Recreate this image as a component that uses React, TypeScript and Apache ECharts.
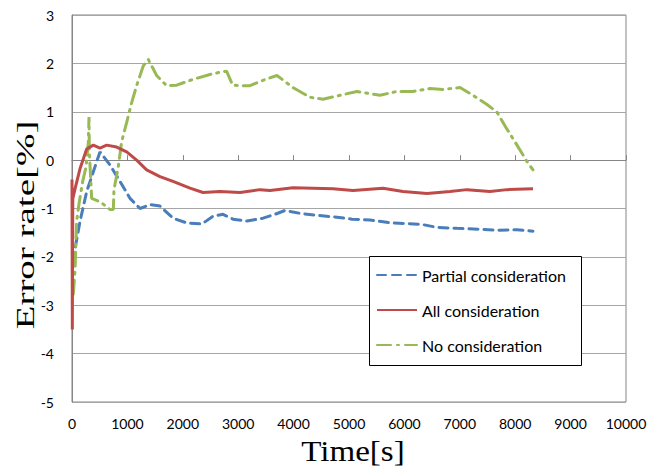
import React, { useEffect, useRef } from "react";
import * as echarts from "echarts";

const seriesNames = ["Partial consideration", "All consideration", "No consideration"];

const partialTime = [20, 36, 144, 265, 385, 505, 686, 866, 1047, 1227, 1408, 1588, 1823, 2075, 2346, 2545, 2726, 2906, 3159, 3448, 3664, 3845, 4116, 4422, 4783, 5054, 5379, 5776, 6047, 6318, 6588, 6949, 7364, 7671, 8032, 8321];
const partialValue = [-2.1, -1.95, -1.27, -0.65, -0.24, 0.17, -0.1, -0.44, -0.79, -1.0, -0.92, -0.95, -1.2, -1.3, -1.32, -1.16, -1.12, -1.22, -1.26, -1.2, -1.12, -1.04, -1.1, -1.14, -1.18, -1.22, -1.24, -1.3, -1.31, -1.33, -1.39, -1.41, -1.43, -1.45, -1.44, -1.47];

const allTime = [0, 6, 14, 54, 144, 265, 385, 505, 626, 806, 987, 1167, 1347, 1588, 1823, 2130, 2365, 2671, 3032, 3394, 3574, 3989, 4711, 5072, 5614, 5975, 6408, 6823, 7130, 7545, 7852, 8321];
const allValue = [-0.4, -3.5, -0.8, -0.6, -0.18, 0.23, 0.31, 0.25, 0.31, 0.27, 0.17, 0, -0.2, -0.34, -0.44, -0.58, -0.67, -0.65, -0.67, -0.61, -0.63, -0.57, -0.59, -0.63, -0.58, -0.65, -0.69, -0.65, -0.61, -0.65, -0.61, -0.59];

const noTime = [24, 54, 83, 132, 193, 253, 295, 307, 313, 355, 505, 686, 746, 758, 836, 896, 987, 1077, 1167, 1287, 1378, 1528, 1708, 1889, 2184, 2491, 2726, 2790, 2900, 3032, 3213, 3448, 3700, 3989, 4296, 4531, 4837, 5144, 5560, 5866, 6155, 6462, 6697, 7004, 7238, 7491, 7671, 7852, 8032, 8213, 8321];
const noValue = [-2.77, -2.29, -1.27, -0.86, -0.44, -0.14, 0.37, 0.89, 0.17, -0.79, -0.86, -1.02, -1.02, -0.61, -0.13, 0.38, 0.78, 1.19, 1.54, 1.95, 2.08, 1.75, 1.54, 1.55, 1.67, 1.77, 1.83, 1.84, 1.55, 1.54, 1.54, 1.65, 1.75, 1.5, 1.3, 1.26, 1.34, 1.42, 1.34, 1.42, 1.42, 1.48, 1.46, 1.5, 1.34, 1.15, 0.99, 0.64, 0.31, -0.03, -0.2];

const xTitle = "Time[s]";
const yTitle = "Error rate[%]";

const zip = (t: number[], v: number[]) => t.map((x, i) => [x, v[i]]);

const labelFont = "Lato, 'Noto Sans', sans-serif";
const serifFont = "'Liberation Serif', 'Times New Roman', serif";

export default function App() {
  const ref = useRef<HTMLDivElement>(null);
  useEffect(() => {
    if (!ref.current) return;
    const chart = echarts.init(ref.current, undefined, { renderer: "svg" });
    chart.setOption({
      animation: false,
      backgroundColor: "#ffffff",
      grid: {
        left: 64,
        top: 4,
        width: 554,
        height: 390,
        show: true,
        borderColor: "#868686",
        borderWidth: 1,
        backgroundColor: "transparent",
      },
      xAxis: {
        type: "value",
        min: 0,
        max: 10000,
        interval: 1000,
        axisLine: { show: true, lineStyle: { color: "#868686", width: 1 } },
        axisTick: { show: true, inside: true, length: 5, lineStyle: { color: "#868686" } },
        splitLine: { show: false },
        axisLabel: {
          color: "#000",
          fontSize: 14,
          fontFamily: labelFont,
          margin: 14,
          formatter: (v: number) => String(v),
        },
      },
      yAxis: {
        type: "value",
        min: -5,
        max: 3,
        interval: 1,
        axisLine: { show: true, lineStyle: { color: "#868686", width: 1 } },
        axisTick: { show: false },
        splitLine: { show: true, lineStyle: { color: "#a6a6a6", width: 1 } },
        axisLabel: {
          color: "#000",
          fontSize: 14,
          fontFamily: labelFont,
          margin: 18,
          formatter: (v: number) => String(v),
        },
      },
      legend: {
        orient: "vertical",
        left: 368,
        top: 259,
        padding: 0,
        itemWidth: 40,
        itemHeight: 14,
        itemGap: 19,
        itemStyle: { opacity: 0, borderWidth: 0 },
        textStyle: { color: "#000", fontSize: 16, fontFamily: labelFont, lineHeight: 14 },
        data: seriesNames,
        z: 6,
      },
      graphic: [
        {
          type: "rect",
          z: 5,
          shape: { x: 361.5, y: 248.5, width: 212, height: 109 },
          style: { fill: "#ffffff", stroke: "#000000", lineWidth: 1 },
        },
        {
          type: "text",
          x: 345,
          y: 443,
          scaleX: 1.14,
          style: {
            text: xTitle,
            font: `29px ${serifFont}`,
            fill: "#000",
            align: "center",
            verticalAlign: "middle",
          },
        },
        {
          type: "text",
          x: 17,
          y: 217,
          rotation: Math.PI / 2,
          scaleX: 1.5,
          style: {
            text: yTitle,
            font: `26px ${serifFont}`,
            fill: "#000",
            align: "center",
            verticalAlign: "middle",
          },
        },
      ],
      series: [
        {
          name: seriesNames[0],
          type: "line",
          data: zip(partialTime, partialValue),
          showSymbol: false,
          symbol: "none",
          color: "#4a7ebb",
          lineStyle: { color: "#4a7ebb", width: 3, type: [9, 6], cap: "round" },
          z: 2,
        },
        {
          name: seriesNames[1],
          type: "line",
          data: zip(allTime, allValue),
          showSymbol: false,
          symbol: "none",
          color: "#be4b48",
          lineStyle: { color: "#be4b48", width: 3 },
          z: 3,
        },
        {
          name: seriesNames[2],
          type: "line",
          data: zip(noTime, noValue),
          showSymbol: false,
          symbol: "none",
          color: "#98b954",
          lineStyle: { color: "#98b954", width: 3, type: [14, 6, 2, 6], cap: "round" },
          z: 2,
        },
      ],
    });
    return () => chart.dispose();
  }, []);
  return <div ref={ref} style={{ width: 650, height: 459 }} />;
}
